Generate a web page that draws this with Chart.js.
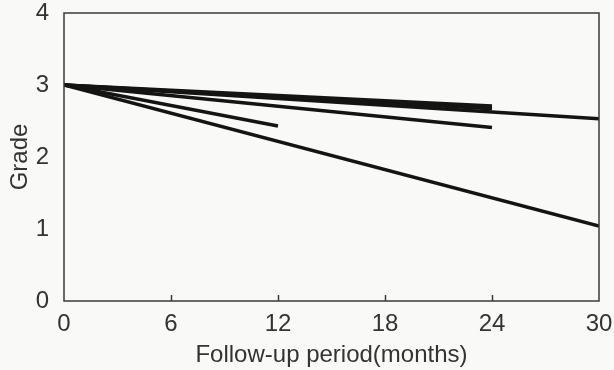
<!DOCTYPE html>
<html>
<head>
<meta charset="utf-8">
<script src="https://cdn.jsdelivr.net/npm/chart.js@4/dist/chart.umd.min.js"></script>
<style>
  html, body { margin: 0; padding: 0; background: #f9f9f8; }
  #wrap { width: 614px; height: 370px; }
</style>
</head>
<body>
<div id="wrap"><canvas id="grade_chart" width="614" height="370"></canvas></div>
<script>
// end points of each follow-up line (all start at month 0, grade 3)
const months_a = [0, 30];  const grade_a = [3, 1.04];
const months_b = [0, 12];  const grade_b = [3, 2.43];
const months_c = [0, 24];  const grade_c = [3, 2.41];
const months_d = [0, 24];  const grade_d = [3, 2.71];
const months_e = [0, 24];  const grade_e = [3, 2.67];
const months_f = [0, 30];  const grade_f = [3, 2.53];

const x_ticks = [0, 6, 12, 18, 24, 30];
const y_ticks = [0, 1, 2, 3, 4];

function toPoints(xs, ys) {
  let pts = [];
  for (let i = 0; i < xs.length; i++) {
    pts.push({x: xs[i], y: ys[i]});
  }
  return pts;
}

const all_series = [
  [months_a, grade_a],
  [months_b, grade_b],
  [months_c, grade_c],
  [months_d, grade_d],
  [months_e, grade_e],
  [months_f, grade_f]
];

let datasets = [];
all_series.forEach(s => {
  datasets.push({
    data: toPoints(s[0], s[1]),
    borderColor: '#141414',
    borderWidth: 3.5,
    pointRadius: 0,
    fill: false,
    tension: 0
  });
});

// box round the plot and small inward ticks on the x axis
const frame = {
  id: 'frame',
  afterDatasetsDraw(chart) {
    const {ctx, chartArea: a, scales} = chart;
    ctx.save();
    ctx.strokeStyle = '#3a3a3a';
    ctx.lineWidth = 1.5;
    ctx.strokeRect(a.left, a.top, a.right - a.left, a.bottom - a.top);
    x_ticks.slice(1, -1).forEach(v => {
      const px = Math.round(scales.x.getPixelForValue(v)) + 0.5;
      ctx.beginPath();
      ctx.moveTo(px, a.bottom);
      ctx.lineTo(px, a.bottom - 6);
      ctx.stroke();
    });
    ctx.restore();
  }
};

new Chart(document.getElementById('grade_chart'), {
  type: 'line',
  data: { datasets: datasets },
  options: {
    responsive: false,
    animation: false,
    layout: { padding: { top: 13, right: 15, left: 0, bottom: 0 } },
    plugins: { legend: { display: false }, tooltip: { enabled: false } },
    scales: {
      x: {
        type: 'linear',
        min: 0, max: 30,
        afterBuildTicks: s => { s.ticks = x_ticks.map(v => ({value: v})); },
        afterFit: s => { s.height = 69; s.paddingLeft = 0; s.paddingRight = 0; },
        grid: { display: false },
        border: { display: false },
        ticks: { color: '#333', font: { family: 'Liberation Sans', size: 24 }, padding: 1, maxRotation: 0 },
        title: { display: true, text: 'Follow-up period(months)', color: '#333',
                 font: { family: 'Liberation Sans', size: 24 }, padding: { top: 0, bottom: 0 } }
      },
      y: {
        min: 0, max: 4,
        afterBuildTicks: s => { s.ticks = y_ticks.map(v => ({value: v})); },
        afterFit: s => { s.width = 64; s.paddingTop = 0; s.paddingBottom = 0; },
        grid: { display: false },
        border: { display: false },
        ticks: { color: '#333', font: { family: 'Liberation Sans', size: 24 }, padding: 7 },
        title: { display: true, text: 'Grade', color: '#333',
                 font: { family: 'Liberation Sans', size: 24 }, padding: { top: 6, bottom: 0 } }
      }
    }
  },
  plugins: [frame]
});
</script>
</body>
</html>
